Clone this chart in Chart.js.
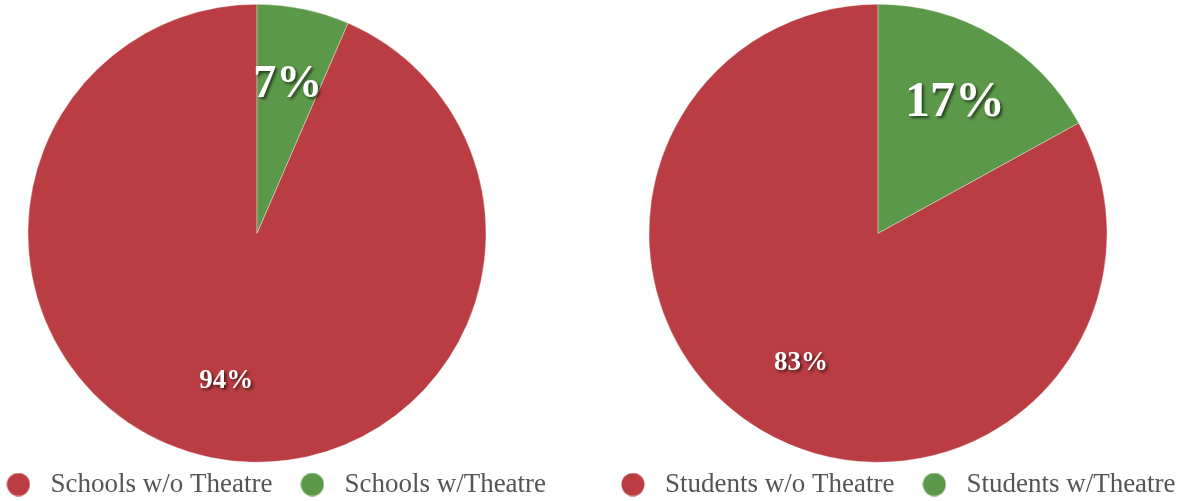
<!DOCTYPE html>
<html>
<head>
<meta charset="utf-8">
<script src="https://cdn.jsdelivr.net/npm/chart.js@4.4.0/dist/chart.umd.min.js"></script>
<style>
    html, body { margin: 0; padding: 0; background: #fff; overflow: hidden; }
    .box { position: absolute; top: 0; width: 620px; height: 501px; }
    #left { left: -37px; }
    #right { left: 585px; }
</style>
</head>
<body>
<div class="box" id="left"><canvas id="schoolsChart"></canvas></div>
<div class="box" id="right"><canvas id="studentsChart"></canvas></div>
<script>
const schoolLabels = ['Schools w/o Theatre', 'Schools w/Theatre'];
const schoolValues = [93.5, 6.5];
const studentLabels = ['Students w/o Theatre', 'Students w/Theatre'];
const studentValues = [83, 17];
const sliceColors = ['#B93D42', '#5C9849'];

Chart.defaults.font.family = '"Liberation Serif", serif';
Chart.defaults.animation = false;

// round legend dots, drawn once so the legend box can be wider than the dot
function dot(color) {
    const c = document.createElement('canvas');
    c.width = 24;
    c.height = 24;
    const g = c.getContext('2d');
    g.fillStyle = color;
    g.beginPath();
    g.arc(12, 12, 11.5, 0, Math.PI * 2);
    g.fill();
    return c;
}
const dots = sliceColors.map(dot);

// move the pie sideways, the legend stays centered
const nudgePie = {
    id: 'nudgePie',
    afterLayout(chart, args, opts) {
        chart.chartArea.left += opts.dx;
        chart.chartArea.right += opts.dx;
    }
};

// percentage text inside each slice
const sliceLabels = {
    id: 'sliceLabels',
    afterDatasetsDraw(chart, args, opts) {
        const ctx = chart.ctx;
        const values = chart.data.datasets[0].data;
        const total = values.reduce((a, b) => a + b, 0);
        chart.getDatasetMeta(0).data.forEach((arc, i) => {
            const p = arc.getProps(['x', 'y', 'startAngle', 'endAngle', 'outerRadius']);
            const mid = (p.startAngle + p.endAngle) / 2;
            const r = p.outerRadius * 0.66;
            ctx.save();
            ctx.font = 'bold ' + opts.sizes[i] + 'px "Liberation Serif"';
            ctx.fillStyle = '#fff';
            ctx.textAlign = 'center';
            ctx.textBaseline = 'middle';
            ctx.shadowColor = 'rgba(0,0,0,0.6)';
            ctx.shadowOffsetX = 2;
            ctx.shadowOffsetY = 2;
            ctx.shadowBlur = 3;
            ctx.fillText(Math.round(values[i] / total * 100) + '%', p.x + Math.cos(mid) * r, p.y + Math.sin(mid) * r);
            ctx.restore();
        });
    }
};

function makePie(id, labels, values, dx, sizes) {
    const total = values.reduce((a, b) => a + b, 0);
    return new Chart(document.getElementById(id).getContext('2d'), {
        type: 'pie',
        data: {
            labels: labels,
            datasets: [{
                data: values,
                backgroundColor: sliceColors,
                borderColor: 'rgba(255,255,255,0.35)',
                borderWidth: 1
            }]
        },
        options: {
            responsive: true,
            maintainAspectRatio: false,
            radius: 229,
            // the small slice sits just right of 12 o'clock
            rotation: values[1] / total * 360,
            layout: {
                padding: { top: 17, bottom: -7 }
            },
            plugins: {
                legend: {
                    display: true,
                    position: 'bottom',
                    labels: {
                        usePointStyle: true,
                        pointStyleWidth: 37,
                        boxHeight: 16,
                        padding: 21.5,
                        color: '#555',
                        font: { size: 27 },
                        generateLabels(chart) {
                            return chart.data.labels.map((text, i) => ({
                                text: text,
                                fillStyle: sliceColors[i],
                                strokeStyle: sliceColors[i],
                                lineWidth: 0,
                                fontColor: '#555',
                                pointStyle: dots[i],
                                hidden: false,
                                index: i
                            }));
                        }
                    }
                },
                tooltip: { enabled: false },
                nudgePie: { dx: dx },
                sliceLabels: { sizes: sizes }
            }
        },
        plugins: [nudgePie, sliceLabels]
    });
}

const schoolsChart = makePie('schoolsChart', schoolLabels, schoolValues, -16, [27, 46]);
const studentsChart = makePie('studentsChart', studentLabels, studentValues, -17, [27, 50]);
</script>
</body>
</html>
